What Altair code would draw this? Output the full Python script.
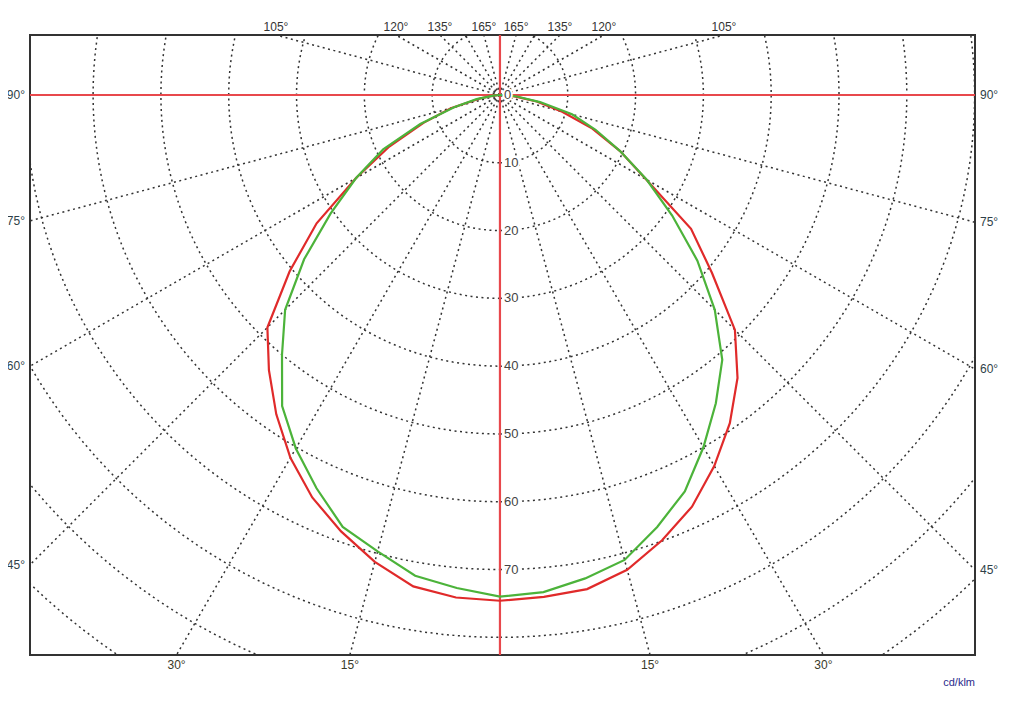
import altair as alt
import pandas as pd
import numpy as np

# ---- data (intensity, cd/klm) ----
gamma = [0, 5, 10, 15, 20, 25, 30, 35, 40, 45, 50, 55, 60, 65, 70, 75, 80, 85, 90]
red_c0 = [74.6, 74.3, 74.0, 72.5, 69.9, 67.0, 63.2, 59.1, 54.5, 49.0, 40.8, 34.4, 24.9, 19.5, 14.5, 9.5, 5.5, 2.0, 0.0]
red_c180 = [74.6, 74.4, 73.6, 71.3, 68.5, 65.5, 61.8, 57.5, 53.0, 48.5, 40.5, 33.0, 24.5, 18.0, 12.0, 7.5, 3.0, 1.0, 0.0]
green_c90 = [74.0, 73.6, 72.4, 71.0, 67.8, 64.5, 60.0, 55.5, 51.0, 44.8, 38.0, 31.0, 25.0, 19.5, 15.0, 11.0, 6.0, 2.5, 0.0]
green_c270 = [74.0, 73.0, 72.0, 69.7, 67.8, 64.0, 60.2, 56.0, 50.0, 44.8, 37.7, 30.5, 24.5, 19.0, 12.5, 7.0, 3.5, 1.0, 0.0]

circle_radii = [10, 20, 30, 40, 50, 60, 70, 80, 90, 100, 110]
radius_labels = [0, 10, 20, 30, 40, 50, 60, 70]
spoke_angles = list(range(0, 360, 15))
top_label_angles = [105, 120, 135, 165]
side_label_angles = [90, 75, 60, 45]
bottom_label_angles = [15, 30]
unit_label = "cd/klm"

X_DOMAIN = [-69.3, 70.05]
Y_DOMAIN = [-82.6, 8.85]
W, H = 945, 620

xs = alt.Scale(domain=X_DOMAIN, nice=False, zero=False)
ys = alt.Scale(domain=Y_DOMAIN, nice=False, zero=False)


def X(f=None, **kw):
    if f is None:
        return alt.X(scale=xs, axis=None, **kw)
    return alt.X(f, scale=xs, axis=None, **kw)


def Y(f=None, **kw):
    if f is None:
        return alt.Y(scale=ys, axis=None, **kw)
    return alt.Y(f, scale=ys, axis=None, **kw)


# ---- tables ----
def curve(right, left, name):
    rows = []
    for g, v in zip(gamma, left):
        rows.append({"a": -g, "r": v, "curve": name})
    for g, v in zip(gamma, right):
        rows.append({"a": g, "r": v, "curve": name})
    df = pd.DataFrame(rows).drop_duplicates(subset=["a"]).sort_values("a")
    return df


curves = pd.concat([curve(red_c0, red_c180, "C0-C180"), curve(green_c90, green_c270, "C90-C270")])

circ_ang = np.arange(0, 361, 2)
circles = pd.DataFrame([{"r": r, "a": a} for r in circle_radii for a in circ_ang])
spokes = pd.DataFrame({"a": spoke_angles})
rlab = pd.DataFrame({"r": radius_labels, "t": [str(v) for v in radius_labels]})
one = pd.DataFrame({"k": [0]})

top_rows = []
for a in top_label_angles:
    dx = Y_DOMAIN[1] * np.tan(np.radians(180 - a))
    top_rows += [{"x": -dx, "y": Y_DOMAIN[1], "t": f"{a}°"}, {"x": dx, "y": Y_DOMAIN[1], "t": f"{a}°"}]
top_df = pd.DataFrame(top_rows)

bot_rows = []
for a in bottom_label_angles:
    dx = -Y_DOMAIN[0] * np.tan(np.radians(a))
    bot_rows += [{"x": -dx, "y": Y_DOMAIN[0], "t": f"{a}°"}, {"x": dx, "y": Y_DOMAIN[0], "t": f"{a}°"}]
bot_df = pd.DataFrame(bot_rows)

left_df = pd.DataFrame([{"x": X_DOMAIN[0], "y": X_DOMAIN[0] / np.tan(np.radians(a)), "t": f"{a}°"} for a in side_label_angles])
right_df = pd.DataFrame([{"x": X_DOMAIN[1], "y": -X_DOMAIN[1] / np.tan(np.radians(a)), "t": f"{a}°"} for a in side_label_angles])
unit_df = pd.DataFrame([{"x": X_DOMAIN[1], "y": Y_DOMAIN[0], "t": unit_label}])

GRID = "#333333"
DASH = [2, 3.5]

circle_layer = alt.Chart(circles).transform_calculate(
    x="datum.r*sin(datum.a*PI/180)", y="-datum.r*cos(datum.a*PI/180)"
).mark_line(clip=True, color=GRID, strokeDash=DASH, strokeWidth=1.5).encode(
    x=X("x:Q"), y=Y("y:Q"), detail="r:N", order="a:Q"
)

spoke_layer = alt.Chart(spokes).transform_calculate(
    x0="0", y0="0",
    x1="130*sin(datum.a*PI/180)", y1="-130*cos(datum.a*PI/180)"
).mark_rule(clip=True, color=GRID, strokeDash=DASH, strokeWidth=1.5).encode(
    x=X("x0:Q"), y=Y("y0:Q"), x2="x1:Q", y2="y1:Q"
)

cross_h = alt.Chart(one).mark_rule(color="#e8484c", strokeWidth=2.2).encode(y=Y(datum=0))
cross_v = alt.Chart(one).mark_rule(color="#e8484c", strokeWidth=2.2).encode(x=X(datum=0))

curve_layer = alt.Chart(curves).transform_calculate(
    x="datum.r*sin(datum.a*PI/180)", y="-datum.r*cos(datum.a*PI/180)"
).mark_line(strokeWidth=2.2, clip=True).encode(
    x=X("x:Q"), y=Y("y:Q"), order="a:Q",
    color=alt.Color("curve:N", scale=alt.Scale(domain=["C0-C180", "C90-C270"], range=["#e02a2a", "#4cb33a"]), legend=None),
)

FONT = "Liberation Sans"
rlab_halo = alt.Chart(rlab).transform_calculate(x0="0", y="-datum.r").mark_text(
    align="left", baseline="middle", dx=4, font=FONT, fontSize=13, stroke="white", strokeWidth=4, color="white"
).encode(x=X("x0:Q"), y=Y("y:Q"), text="t:N")
rlab_text = alt.Chart(rlab).transform_calculate(x0="0", y="-datum.r").mark_text(
    align="left", baseline="middle", dx=4, font=FONT, fontSize=13, color="#444"
).encode(x=X("x0:Q"), y=Y("y:Q"), text="t:N")

top_text = alt.Chart(top_df).mark_text(baseline="bottom", dy=-1, font=FONT, fontSize=12, color="#333").encode(
    x=X("x:Q"), y=Y("y:Q"), text="t:N")
bot_text = alt.Chart(bot_df).mark_text(baseline="top", dy=5, font=FONT, fontSize=12, color="#3a3a28").encode(
    x=X("x:Q"), y=Y("y:Q"), text="t:N")
left_text = alt.Chart(left_df).mark_text(align="right", baseline="middle", dx=-5, font=FONT, fontSize=12, color="#2f3f48").encode(
    x=X("x:Q"), y=Y("y:Q"), text="t:N")
right_text = alt.Chart(right_df).mark_text(align="left", baseline="middle", dx=5, font=FONT, fontSize=12, color="#2f3f48").encode(
    x=X("x:Q"), y=Y("y:Q"), text="t:N")
unit_text = alt.Chart(unit_df).mark_text(align="right", baseline="middle", dy=28, font=FONT, fontSize=11, color="#2a2a8c").encode(
    x=X("x:Q"), y=Y("y:Q"), text="t:N")

chart = alt.layer(
    circle_layer, spoke_layer, cross_h, cross_v, curve_layer,
    rlab_halo, rlab_text, top_text, bot_text, left_text, right_text, unit_text
).properties(
    width=W, height=H,
    autosize=alt.AutoSizeParams(type="none"),
    padding={"left": 22, "top": 27, "right": 40, "bottom": 40},
    background="white",
).configure_view(stroke="#333", strokeWidth=2)

chart.save("out.html", embed_options={"renderer": "svg", "actions": False})
